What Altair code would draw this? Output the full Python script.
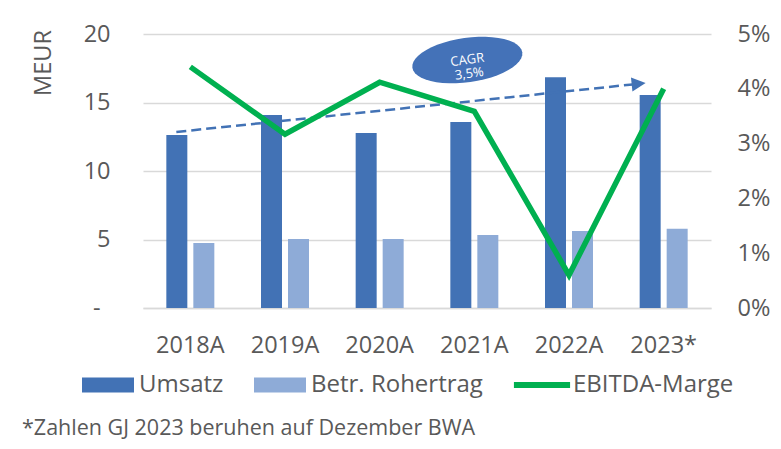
import math
import altair as alt
import pandas as pd

# ---- data ----
years = ["2018A", "2019A", "2020A", "2021A", "2022A", "2023*"]
umsatz = [12.63, 14.09, 12.77, 13.58, 16.84, 15.55]          # MEUR
rohertrag = [4.74, 5.04, 5.04, 5.33, 5.62, 5.79]             # MEUR
ebitda_marge = [0.044, 0.0317, 0.0412, 0.0359, 0.006, 0.040]  # share
series = ["Umsatz", "Betr. Rohertrag", "EBITDA-Marge"]
colors = ["#4272b5", "#8eabd7", "#00b050"]

trend_start = 12.85   # MEUR at 2018A
trend_end = 16.32     # MEUR near 2023*
arrow_val = 16.37
cagr_label = "CAGR\n3,5%"
cagr_pos = 18.1
footnote = "*Zahlen GJ 2023 beruhen auf Dezember BWA"

FONT = "Open Sans"
GREY = "#595959"
GRID = "#d9d9d9"
FS = 23.5

# ellipse outline as a unit symbol path (shape only)
_pts = [(math.cos(2 * math.pi * k / 48), 0.4 * math.sin(2 * math.pi * k / 48)) for k in range(48)]
ELLIPSE = "M" + "L".join(f"{px:.4f},{py:.4f}" for px, py in _pts) + "Z"

df_u = pd.DataFrame({"year": years, "v": umsatz})
df_r = pd.DataFrame({"year": years, "v": rohertrag})
df_m = pd.DataFrame({"year": years, "m": ebitda_marge})
df_trend = pd.DataFrame({"year": ["2018A"], "year2": ["2023*"], "v": [trend_start], "v2": [trend_end]})
df_arrow = pd.DataFrame({"year": ["2023*"], "v": [arrow_val]})
df_cagr = pd.DataFrame({"year": ["2021A"], "v": [cagr_pos], "label": [cagr_label]})
df_leg = pd.DataFrame({"series": series})

x_enc = alt.X(
    "year:N", title=None,
    scale=alt.Scale(domain=years, paddingInner=0, paddingOuter=0),
    axis=alt.Axis(labelAngle=0, labelFont=FONT, labelFontSize=FS, labelColor=GREY,
                  labelPadding=25, ticks=False, domain=True, domainColor=GRID,
                  domainWidth=1.5, grid=False),
)
y_left = alt.Y(
    "v:Q", scale=alt.Scale(domain=[0, 20], nice=False, zero=True),
    axis=alt.Axis(values=[0, 5, 10, 15, 20], title="MEUR", titleFont=FONT,
                  titleFontSize=FS, titleFontWeight="normal", titleColor=GREY,
                  titleAngle=270, titleAlign="center", titleBaseline="alphabetic",
                  titleX=-93, titleY=28.5,
                  labelFont=FONT, labelFontSize=FS, labelColor=GREY,
                  labelPadding={"condition": {"test": "datum.value == 0", "value": 43}, "value": 33},
                  labelExpr="datum.value == 0 ? '-' : datum.label",
                  ticks=False, domain=False, grid=True, gridColor=GRID, gridWidth=1.5),
)

bars_u = alt.Chart(df_u).mark_bar(size=21, xOffset=-13.5, color=colors[0]).encode(x=x_enc, y=y_left)
bars_r = alt.Chart(df_r).mark_bar(size=21, xOffset=13.5, color=colors[1]).encode(x=x_enc, y=y_left)

trend = alt.Chart(df_trend).mark_rule(
    color=colors[0], strokeWidth=2.5, strokeDash=[10, 5], xOffset=-14, x2Offset=-31
).encode(x=x_enc, x2="year2:N", y=y_left, y2="v2:Q")

arrow = alt.Chart(df_arrow).mark_point(
    shape="M-1,-1L1,0L-1,1Z", filled=True, size=196, angle=354, opacity=1,
    color=colors[0], xOffset=-25
).encode(x=x_enc, y=y_left)

ellipse = alt.Chart(df_cagr).mark_point(
    shape=ELLIPSE, filled=True, size=12321,
    angle=352, opacity=1, color="#4472b8", xOffset=-7
).encode(x=x_enc, y=y_left)

cagr_text = alt.Chart(df_cagr).mark_text(
    font=FONT, fontSize=13, color="white", lineBreak="\n", lineHeight=14,
    angle=352, align="center", baseline="middle", xOffset=-7
).encode(x=x_enc, y=y_left, text="label:N")

left = alt.layer(bars_u, bars_r, trend, arrow, ellipse, cagr_text)

line = alt.Chart(df_m).mark_line(
    color=colors[2], strokeWidth=5.5, strokeJoin="miter", strokeCap="butt"
).encode(
    x=x_enc,
    y=alt.Y("m:Q", scale=alt.Scale(domain=[0, 0.05], nice=False),
            axis=alt.Axis(orient="right", values=[0, 0.01, 0.02, 0.03, 0.04, 0.05],
                          format=".0%", title=None, labelFont=FONT, labelFontSize=FS,
                          labelColor=GREY, labelPadding=26, ticks=False, domain=False,
                          grid=False)),
)

leg = dict(orient="none", legendX=-61, legendY=325, direction="horizontal", title=None,
           labelFont=FONT, labelFontSize=24, labelColor=GREY, labelOffset=5,
           columnPadding=30, padding=0, symbolSize=2704, symbolStrokeWidth=0,
           labelLimit=400)

legend_pts = alt.Chart(df_leg).mark_point(filled=True, size=2704, clip=True, opacity=1).encode(
    x=alt.value(0), y=alt.value(-400),
    color=alt.Color("series:N", sort=series,
                    scale=alt.Scale(domain=series, range=colors),
                    legend=alt.Legend(**leg)),
    shape=alt.Shape("series:N", sort=series,
                    scale=alt.Scale(domain=series,
                                    range=["M-1,-0.29H1V0.29H-1Z",
                                           "M-1,-0.29H1V0.29H-1Z",
                                           "M-1.08,-0.115H1.08V0.115H-1.08Z"]),
                    legend=alt.Legend(**leg)),
)

chart = alt.layer(left, line, legend_pts).resolve_scale(y="independent").properties(
    width=568, height=274,
    autosize=alt.AutoSizeParams(type="none"),
    padding={"left": 135, "top": 26, "right": 60, "bottom": 133},
    title=alt.TitleParams(footnote, orient="bottom", anchor="start", frame="group",
                          dx=-121, offset=21, font=FONT, fontSize=21.5,
                          fontWeight="normal", color=GREY),
    background="white",
).configure_view(stroke=None)

chart.save("out.html", embed_options={"renderer": "svg", "actions": False})
